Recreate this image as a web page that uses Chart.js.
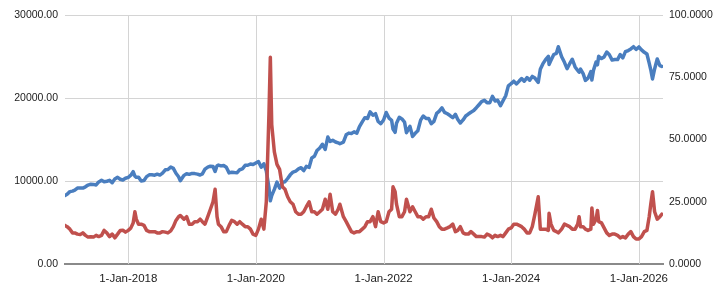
<!DOCTYPE html>
<html>
<head>
<meta charset="utf-8">
<script src="https://cdn.jsdelivr.net/npm/chart.js@4/dist/chart.umd.min.js"></script>
<style>
    body { margin: 0; background: #fff; }
    #wrap { width: 721px; height: 285px; position: relative; }
</style>
</head>
<body>
<div id="wrap"><canvas id="chart"></canvas></div>
<script>
// sample dates (roughly twice a month, plus a few turning points)
const dates = [
    '2017-01-04','2017-01-16','2017-02-01','2017-02-16','2017-03-01','2017-03-16','2017-04-01','2017-04-16','2017-05-01','2017-05-16','2017-06-01','2017-06-16','2017-07-01','2017-07-16','2017-08-01','2017-08-16','2017-09-01','2017-09-16','2017-10-01','2017-10-16','2017-11-01','2017-11-16','2017-12-01','2017-12-16',
    '2018-01-01','2018-01-16','2018-01-29','2018-02-08','2018-02-16','2018-03-01','2018-03-16','2018-04-01','2018-04-16','2018-05-01','2018-05-16','2018-06-01','2018-06-16','2018-07-01','2018-07-16','2018-08-01','2018-08-16','2018-09-01','2018-09-16','2018-10-01','2018-10-16','2018-10-26','2018-11-16','2018-12-01','2018-12-16',
    '2019-01-01','2019-01-16','2019-02-01','2019-02-16','2019-03-01','2019-03-16','2019-04-01','2019-04-16','2019-05-01','2019-05-13','2019-05-24','2019-06-01','2019-06-16','2019-07-01','2019-07-16','2019-08-01','2019-08-16','2019-09-01','2019-09-16','2019-10-01','2019-10-16','2019-11-01','2019-11-16','2019-12-01','2019-12-16',
    '2020-01-01','2020-01-16','2020-02-01','2020-02-16','2020-03-01','2020-03-16','2020-03-24','2020-04-01','2020-04-16','2020-05-01','2020-05-16','2020-06-01','2020-06-16','2020-07-01','2020-07-16','2020-08-01','2020-08-16','2020-09-01','2020-09-16','2020-10-01','2020-10-16','2020-11-01','2020-11-16','2020-12-01','2020-12-16',
    '2021-01-01','2021-01-16','2021-02-01','2021-02-16','2021-03-01','2021-03-16','2021-04-01','2021-04-16','2021-04-26','2021-05-16','2021-06-01','2021-06-16','2021-07-01','2021-07-16','2021-08-01','2021-08-16','2021-09-01','2021-09-16','2021-10-01','2021-10-16','2021-11-01','2021-11-16','2021-12-01','2021-12-16',
    '2022-01-01','2022-01-16','2022-02-01','2022-02-16','2022-02-24','2022-03-08','2022-03-16','2022-04-01','2022-04-16','2022-05-01','2022-05-12','2022-06-01','2022-06-16','2022-07-01','2022-07-16','2022-08-01','2022-08-16','2022-09-01','2022-09-16','2022-10-01','2022-10-16','2022-11-01','2022-11-16','2022-12-01','2022-12-16',
    '2023-01-01','2023-01-16','2023-02-01','2023-02-16','2023-03-01','2023-03-16','2023-04-01','2023-04-16','2023-05-01','2023-05-16','2023-06-01','2023-06-16','2023-07-01','2023-07-16','2023-08-01','2023-08-16','2023-09-01','2023-09-16','2023-10-01','2023-10-16','2023-11-01','2023-11-16','2023-12-01','2023-12-16',
    '2024-01-01','2024-01-16','2024-02-01','2024-02-16','2024-03-01','2024-03-16','2024-04-01','2024-04-16','2024-05-01','2024-05-16','2024-06-04','2024-06-16','2024-07-01','2024-07-16','2024-08-01','2024-08-05','2024-08-16','2024-09-01','2024-09-16','2024-09-27','2024-10-16','2024-11-01','2024-11-16','2024-12-01','2024-12-16',
    '2025-01-01','2025-01-16','2025-01-24','2025-02-01','2025-02-16','2025-03-01','2025-03-16','2025-04-01','2025-04-07','2025-04-16','2025-05-01','2025-05-09','2025-05-16','2025-06-01','2025-06-16','2025-07-01','2025-07-16','2025-08-01','2025-08-16','2025-09-01','2025-09-16','2025-10-01','2025-10-16','2025-11-01','2025-11-16','2025-12-01','2025-12-16',
    '2026-01-01','2026-01-16','2026-02-01','2026-02-16','2026-03-01','2026-03-10','2026-03-20','2026-04-01','2026-04-16','2026-05-01','2026-05-12'
];

// left axis series (blue)
const indexLevel = [
    8250, 8400, 8720, 8780, 8900, 9150, 9170, 9150, 9300, 9510, 9620, 9590, 9520, 9890, 10080, 9900, 9970, 10080, 9790, 10230, 10440, 10210, 10120, 10330,
    10440, 10700, 11130, 10580, 10450, 10460, 10000, 10050, 10530, 10740, 10740, 10700, 10820, 10710, 10940, 11350, 11390, 11680, 11520, 10930, 10510, 10030, 10680, 10880, 10800,
    10910, 10890, 10830, 10720, 10860, 11430, 11670, 11790, 11750, 11150, 11840, 11920, 11820, 11870, 11660, 10980, 11050, 11020, 11000, 11360, 11460, 11890, 11900, 12050, 11990,
    12180, 12350, 11660, 12080, 11200, 9200, 7610, 8250, 8990, 9860, 9140, 9830, 9910, 10300, 10740, 11070, 11180, 11470, 11600, 11250, 11760, 11640, 12780, 12970, 13680,
    13980, 14430, 13800, 15300, 14760, 14900, 14700, 14600, 14490, 14680, 15570, 15770, 15720, 15920, 15760, 16560, 17130, 17630, 17530, 18340, 17930, 18110, 17170, 16900,
    17350, 18250, 17580, 17320, 16250, 15860, 16970, 17670, 17480, 17100, 15810, 16580, 15360, 15750, 16050, 17340, 17830, 17540, 17530, 16900, 17180, 18150, 18410, 18810, 18270,
    18100, 17890, 17620, 18030, 17450, 16990, 17360, 17830, 18070, 18290, 18490, 18830, 19190, 19560, 19730, 19440, 19440, 20190, 19640, 19730, 19080, 19680, 20270, 21460,
    21730, 22030, 21700, 22040, 22340, 22020, 22460, 22150, 22600, 22400, 21880, 23460, 24140, 24610, 25010, 24050, 24540, 25240, 25380, 26180, 24970, 24300, 23530, 24130, 24670,
    23740, 23310, 23100, 23480, 22930, 22120, 22400, 23170, 22160, 23330, 24330, 24000, 25020, 24750, 24950, 25540, 25210, 24570, 24630, 24630, 25240, 24840, 25580, 25720, 25910, 26180, 25860,
    26150, 25800, 25500, 25300, 24200, 23400, 22300, 23500, 24700, 23900, 23800
];

// right axis series (red)
const volatility = [
    15.5, 15.0, 14.0, 12.5, 12.5, 12.0, 11.8, 12.5, 11.5, 10.8, 10.9, 10.8, 11.5, 11.0, 11.5, 13.5, 12.4, 11.0, 12.0, 10.5, 12.0, 13.5, 13.6, 12.8,
    13.5, 14.5, 16.5, 21.0, 18.0, 16.0, 16.0, 15.5, 13.5, 13.0, 13.0, 13.0, 12.5, 12.5, 13.0, 12.8, 12.5, 13.3, 15.0, 17.5, 19.0, 19.5, 18.0, 19.0, 16.0,
    16.0, 17.0, 17.0, 18.0, 17.0, 16.0, 19.0, 22.0, 25.0, 30.0, 19.0, 16.0, 15.0, 13.0, 13.0, 15.5, 17.5, 17.0, 16.0, 17.0, 16.0, 15.0, 15.0, 14.0, 12.0,
    11.5, 14.0, 18.0, 14.0, 25.0, 60.0, 83.0, 56.0, 45.0, 40.0, 38.0, 31.0, 30.0, 27.0, 25.0, 24.0, 21.0, 20.0, 20.0, 21.0, 23.0, 25.0, 21.0, 21.0, 20.0,
    21.0, 22.0, 26.0, 22.0, 28.0, 21.0, 20.0, 22.0, 24.0, 19.0, 17.0, 15.0, 13.0, 12.5, 13.0, 13.0, 14.0, 15.0, 17.0, 17.0, 19.0, 15.0, 21.0, 17.0,
    16.5, 17.0, 21.0, 22.0, 31.0, 29.0, 24.0, 19.0, 19.0, 21.0, 26.0, 21.0, 23.0, 21.0, 19.0, 19.0, 18.0, 19.0, 19.0, 22.0, 18.5, 17.0, 15.0, 14.0, 14.0,
    14.5, 15.0, 16.0, 13.0, 13.5, 15.0, 12.5, 12.0, 12.0, 13.0, 12.0, 11.0, 11.0, 11.0, 10.8, 12.0, 11.5, 10.5, 11.5, 11.0, 11.5, 11.0, 12.5, 14.0,
    14.5, 16.0, 16.0, 15.5, 15.0, 14.0, 12.5, 12.5, 15.0, 20.0, 27.0, 14.0, 14.0, 14.0, 13.5, 20.4, 16.0, 13.5, 13.0, 12.5, 14.0, 16.0, 15.5, 15.0, 14.0,
    14.0, 16.0, 19.0, 15.0, 15.0, 14.0, 13.5, 14.0, 22.5, 16.0, 18.0, 21.5, 17.0, 16.5, 14.5, 12.5, 11.5, 12.0, 12.0, 11.5, 10.5, 11.0, 10.5, 12.0, 13.0, 11.0, 10.0,
    10.0, 11.0, 13.0, 13.5, 19.0, 24.0, 29.0, 21.0, 18.0, 19.0, 20.0
];

const tickYears = [2018, 2020, 2022, 2024, 2026];
const monthNames = ['Jan','Feb','Mar','Apr','May','Jun','Jul','Aug','Sep','Oct','Nov','Dec'];

const toPoints = values => dates.map((d, i) => ({ x: Date.parse(d), y: values[i] }));

const yFont = { family: 'Liberation Sans', size: 10.5 };
const xFont = { family: 'Liberation Sans', size: 11.5 };

// vertical grid lines at the date ticks
const dateGrid = {
    id: 'dateGrid',
    beforeDatasetsDraw(chart) {
        const { ctx, chartArea, scales } = chart;
        ctx.save();
        ctx.strokeStyle = '#d4d4d4';
        ctx.lineWidth = 1;
        tickYears.forEach(y => {
            const px = Math.round(scales.x.getPixelForValue(Date.UTC(y, 0, 1))) + 0.5;
            ctx.beginPath();
            ctx.moveTo(px, chartArea.top);
            ctx.lineTo(px, chartArea.bottom);
            ctx.stroke();
        });
        ctx.restore();
    }
};

new Chart(document.getElementById('chart'), {
    type: 'line',
    data: {
        datasets: [
            {
                label: 'Volatility',
                data: toPoints(volatility),
                yAxisID: 'y2',
                borderColor: '#c0504d',
                borderWidth: 3.5,
                borderJoinStyle: 'round',
                borderCapStyle: 'round',
                pointRadius: 0,
                tension: 0,
                order: 0
            },
            {
                label: 'Index',
                data: toPoints(indexLevel),
                yAxisID: 'y',
                borderColor: '#4a7ebf',
                borderWidth: 3.5,
                borderJoinStyle: 'round',
                borderCapStyle: 'round',
                pointRadius: 0,
                tension: 0,
                order: 1
            }
        ]
    },
    plugins: [dateGrid],
    options: {
        responsive: true,
        maintainAspectRatio: false,
        animation: false,
        layout: { padding: { top: 15, left: 0, right: 0, bottom: 0 } },
        plugins: {
            legend: { display: false },
            tooltip: { enabled: false }
        },
        scales: {
            x: {
                type: 'linear',
                min: Date.UTC(2017, 0, 4),
                max: Date.UTC(2026, 4, 19),
                afterBuildTicks: scale => {
                    scale.ticks = tickYears.map(y => ({ value: Date.UTC(y, 0, 1) }));
                },
                afterFit: scale => { scale.height = 21; },
                grid: { display: false, drawTicks: false },
                border: { display: true, color: '#8a8a8a', width: 2 },
                ticks: {
                    font: xFont,
                    color: '#222',
                    padding: 8,
                    maxRotation: 0,
                    callback: v => {
                        const d = new Date(v);
                        return d.getUTCDate() + '-' + monthNames[d.getUTCMonth()] + '-' + d.getUTCFullYear();
                    }
                }
            },
            y: {
                position: 'left',
                min: 0,
                max: 30000,
                afterFit: scale => { scale.width = 65; },
                grid: { color: '#d4d4d4', lineWidth: 1, drawTicks: false },
                border: { display: false },
                ticks: {
                    stepSize: 10000,
                    font: yFont,
                    color: '#222',
                    padding: 7,
                    callback: v => v.toFixed(2)
                }
            },
            y2: {
                position: 'right',
                min: 0,
                max: 100,
                afterFit: scale => { scale.width = 58; },
                grid: { display: false, drawTicks: false },
                border: { display: false },
                ticks: {
                    stepSize: 25,
                    font: yFont,
                    color: '#222',
                    padding: 6,
                    callback: v => v.toFixed(4)
                }
            }
        }
    }
});
</script>
</body>
</html>
